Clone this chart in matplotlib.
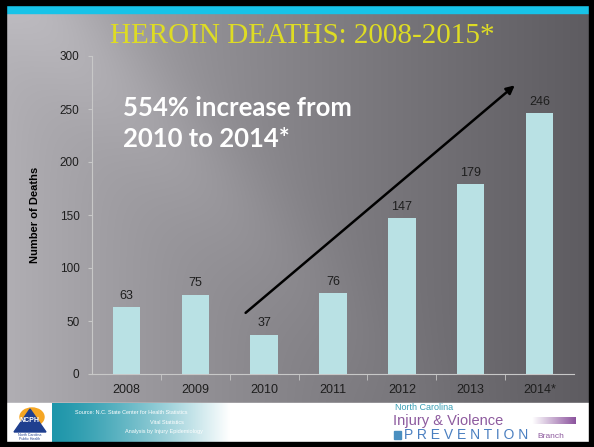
import numpy as np
import matplotlib
matplotlib.use("Agg")
import matplotlib.pyplot as plt
from matplotlib.patches import Rectangle, Circle, Polygon

# chart data
years = ["2008", "2009", "2010", "2011", "2012", "2013", "2014*"]
deaths = [63, 75, 37, 76, 147, 179, 246]
yticks = [0, 50, 100, 150, 200, 250, 300]

title = "HEROIN DEATHS: 2008-2015*"
note = "554% increase from\n2010 to 2014*"
# trend arrow, in data units (category index, deaths)
arrow_start = (1.7, 56)
arrow_end = (5.67, 274)

plt.rcParams["font.family"] = ["Liberation Sans", "DejaVu Sans"]

W, H = 594, 447
fig = plt.figure(figsize=(W / 100, H / 100), dpi=100)

# slide background: gray gradient, lighter on the left with a soft diagonal streak
bg = fig.add_axes([0, 0, 1, 1])
bg.set_axis_off()
xx, yy = np.meshgrid(np.linspace(0, 1, W), np.linspace(0, 1, H))
shade = 178 - 85 * xx ** 0.9
streak = 16 * np.exp(-((xx - 0.75 * yy - 0.05) / 0.12) ** 2) * np.exp(-(xx / 0.5) ** 2)
shade = shade + streak
img = np.dstack([shade, shade - 2, shade + 3]).clip(0, 255) / 255
bg.imshow(img, extent=[0, 1, 0, 1], aspect="auto", origin="upper")

# footer (white) with teal fade band
foot_h = (447 - 403) / H
bg.add_patch(Rectangle((0, 0), 1, foot_h, color="white", zorder=2))
band = np.linspace(0, 1, 200)
teal = np.array([30, 150, 170]) / 255
fade = np.array([teal * (1 - t ** 1.3) + np.ones(3) * t ** 1.3 for t in band])[None, :, :]
bg.imshow(fade, extent=[52 / W, 230 / W, 5 / H, foot_h], aspect="auto", zorder=3)

# cyan strip and black border
bg.add_patch(Rectangle((0, 1 - 13 / H), 1, 8 / H, color="#17c3e8", zorder=4))
for r in [(0, 0, 6 / W, 1), (1 - 5 / W, 0, 5 / W, 1), (0, 1 - 5 / H, 1, 5 / H), (0, 0, 1, 5 / H)]:
    bg.add_patch(Rectangle(r[:2], r[2], r[3], color="black", zorder=5))

# left logo (rough)
bg.add_patch(Rectangle((11 / W, 6 / H), 38 / W, 36 / H, color="white", zorder=4))
bg.add_patch(Circle((32 / W, 30 / H), 12 / W, color="#f5a623", zorder=5))
bg.add_patch(Polygon([(14 / W, 15 / H), (30 / W, 38 / H), (46 / W, 15 / H)], color="#1f3f8f", zorder=6))
bg.text(30 / W, 27 / H, "NCPH", color="white", fontsize=5, fontweight="bold", ha="center", va="center", zorder=7)
bg.text(30 / W, 10 / H, "North Carolina\nPublic Health", color="#1f3f8f", fontsize=2.6,
        ha="center", va="center", zorder=7, linespacing=1.0)

# source text (white on teal)
bg.text(75 / W, 34 / H, "Source: N.C. State Center for Health Statistics", color="white", fontsize=4,
        ha="left", va="center", zorder=6)
bg.text(150 / W, 25 / H, "Vital Statistics", color="white", fontsize=4, ha="left", va="center", zorder=6)
bg.text(125 / W, 16 / H, "Analysis by Injury Epidemiology", color="white", fontsize=4, ha="left",
        va="center", zorder=6)

# right logo
bg.text(395 / W, 39 / H, "North Carolina", color="#3a9fb5", fontsize=6.5, ha="left", va="center", zorder=6)
bg.text(393 / W, 26 / H, "Injury & Violence", color="#8d5a9e", fontsize=10.5, ha="left", va="center", zorder=6)
purple = np.array([0.55, 0.33, 0.62])
grad = np.array([np.ones(3) * (1 - t) + purple * t for t in np.linspace(0, 1, 50)])[None, :, :]
bg.imshow(grad, extent=[532 / W, 576 / W, 23 / H, 30 / H], aspect="auto", zorder=6)
bg.add_patch(Rectangle((394 / W, 8 / H), 7 / W, 8 / H, color="#4a8fc0", zorder=6))
bg.text(404 / W, 12 / H, "P R E V E N T I O N", color="#4a7fc0", fontsize=10, ha="left", va="center", zorder=6)
bg.text(537 / W, 11 / H, "Branch", color="#8d5a9e", fontsize=6, ha="left", va="center", zorder=6)

# title
bg.text(302 / W, 1 - 36 / H, title, color="#dedc24", fontsize=21, family="Liberation Serif",
        ha="center", va="center", zorder=6)
bg.set_xlim(0, 1)
bg.set_ylim(0, 1)

# chart
ax = fig.add_axes([92 / W, 73 / H, (574 - 92) / W, (374 - 56) / H])
ax.set_facecolor("none")
x = np.arange(len(years))
bars = ax.bar(x, deaths, width=0.4, color="#b9e1e4", zorder=3)
for xi, v in zip(x, deaths):
    ax.text(xi, v + 5, str(v), ha="center", va="bottom", fontsize=9, color="#1e1e1e")

ax.set_xlim(-0.5, len(years) - 0.5)
ax.set_ylim(0, 300)
ax.set_yticks(yticks)
ax.set_xticks(x)
ax.set_xticklabels(years)
ax.set_xticks(x[:-1] + 0.5, minor=True)
ax.tick_params(axis="x", which="major", length=0, labelsize=9, colors="#1e1e1e", pad=7)
ax.tick_params(axis="x", which="minor", length=4, color="#c8c8c8", direction="out")
ax.tick_params(axis="y", length=3, color="#c8c8c8", labelsize=8.5, labelcolor="#1e1e1e", pad=6)
for s in ["top", "right"]:
    ax.spines[s].set_visible(False)
ax.spines["left"].set_color("#c8c8c8")
ax.spines["bottom"].set_color("#c8c8c8")
ax.spines["left"].set_linewidth(0.8)
ax.spines["bottom"].set_linewidth(0.8)
ax.set_ylabel("Number of Deaths", fontsize=8, fontweight="bold", color="black", labelpad=14)

ax.annotate("", xy=arrow_end, xytext=arrow_start,
            arrowprops=dict(arrowstyle="-|>", color="black", lw=1.8, mutation_scale=12), zorder=4)

ax.text(0.065, 0.875, note, transform=ax.transAxes, color="white", fontsize=18.5, fontweight="bold",
        family="Lato", ha="left", va="top", linespacing=1.35)

fig.savefig("out.png", dpi=100)
